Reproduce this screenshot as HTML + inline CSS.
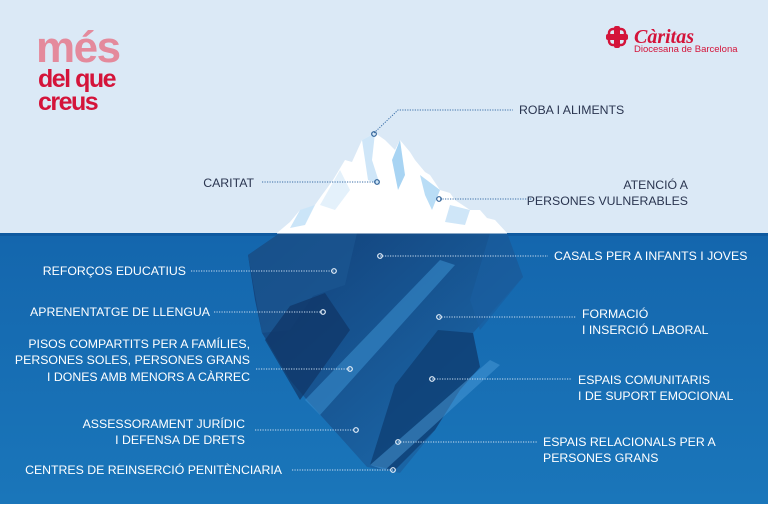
<!DOCTYPE html>
<html><head><meta charset="utf-8"><style>
html,body{margin:0;padding:0}
body{width:768px;height:504px;overflow:hidden;font-family:"Liberation Sans",sans-serif}
</style></head><body>
<svg width="768" height="504" viewBox="0 0 768 504" xmlns="http://www.w3.org/2000/svg" font-family="Liberation Sans, sans-serif">
<defs>
<linearGradient id="sea" x1="0" y1="0" x2="0" y2="1"><stop offset="0" stop-color="#1466ad"/><stop offset="1" stop-color="#1a76ba"/></linearGradient>
<linearGradient id="ice" x1="0" y1="0" x2="1" y2="1"><stop offset="0" stop-color="#123f77"/><stop offset="1" stop-color="#1d6fb2"/></linearGradient>
</defs>
<rect width="768" height="233" fill="#dbe9f6"/>
<rect y="233" width="768" height="271" fill="url(#sea)"/>
<rect y="233" width="768" height="3" fill="#0f5aa0"/>
<polygon points="280,233 248,255 255,300 262,333 290,380 307,400 367,467 400,473 435,430 460,390 480,367 473,333 523,277 507,233" fill="url(#ice)"/>
<polygon points="248,255 280,233 357,233 345,285 313,296 290,330 262,333" fill="#1a5590" opacity="0.8"/>
<polygon points="265,340 290,306 325,293 350,330 300,400" fill="#0f3565" opacity="0.7"/>
<polygon points="438,330 473,333 480,367 460,390 435,430 395,470 370,465 395,385" fill="#0d3a6e" opacity="0.7"/>
<polygon points="305,400 440,260 455,265 320,415" fill="#3a8fd0" opacity="0.55"/>
<polygon points="370,465 490,360 500,365 385,470" fill="#4a9ad8" opacity="0.5"/>
<polygon points="490,233 507,233 523,277 480,330 470,300" fill="#195e9f" opacity="0.7"/>
<polygon points="277,233 290,222 300,210 310,212 322,195 333,180 345,160 352,162 362,140 375,133 385,140 395,150 400,140 410,152 415,160 425,172 430,175 440,190 450,193 455,200 470,210 480,210 487,218 495,220 507,233" fill="#ffffff"/>
<polygon points="362,140 375,133 372,160 380,185 368,180" fill="#cfe6f8"/>
<polygon points="400,140 405,175 398,190 392,160" fill="#a8d4f3"/>
<polygon points="420,175 440,190 432,210 425,195" fill="#b9ddf6"/>
<polygon points="300,210 315,205 305,225 290,228" fill="#cbe5f8"/>
<polygon points="340,170 350,190 335,210 320,205" fill="#e4f1fb"/>
<polygon points="450,205 470,210 465,225 445,222" fill="#cfe6f8"/>
<line x1="277" y1="233" x2="507" y2="233" stroke="#ffffff" stroke-width="1"/>
<g font-weight="bold" letter-spacing="-1.5">
<text x="36" y="62" font-size="44" fill="#e48a9c">més</text>
<text x="38" y="87" font-size="25" fill="#d4143a">del que</text>
<text x="38" y="110" font-size="25" fill="#d4143a">creus</text>
</g>
<g fill="#d4143a">
<rect x="614" y="26" width="6" height="22" rx="2"/><rect x="606" y="34" width="22" height="6" rx="2"/>
<rect x="609" y="29" width="16" height="16" rx="4" fill="none" stroke="#d4143a" stroke-width="2.5"/>
<text x="634" y="43" font-size="20" font-weight="bold" font-style="italic" font-family="Liberation Serif, serif">Càritas</text>
<text x="634" y="52" font-size="9.5">Diocesana de Barcelona</text>
</g>
<g stroke-dasharray="1.2 1.3" stroke-width="1" fill="none">
<path d="M374,133 L398,110 L513,110" stroke="#3a6fa8"/>
<line x1="262" y1="182" x2="376" y2="182" stroke="#3a6fa8"/>
<line x1="440" y1="199" x2="532" y2="199" stroke="#3a6fa8"/>
<g stroke="#c9dcef">
<line x1="380" y1="256" x2="548" y2="256"/>
<line x1="191" y1="271" x2="334" y2="271"/>
<line x1="214" y1="312" x2="322" y2="312"/>
<line x1="439" y1="317" x2="576" y2="317"/>
<line x1="256" y1="369" x2="350" y2="369"/>
<line x1="432" y1="379" x2="572" y2="379"/>
<line x1="255" y1="430" x2="355" y2="430"/>
<line x1="398" y1="442" x2="538" y2="442"/>
<line x1="292" y1="470" x2="393" y2="470"/>
</g>
</g>
<g fill="none" stroke-width="1.2">
<circle cx="374" cy="134" r="2.3" stroke="#2c5f96"/>
<circle cx="377" cy="182" r="2.3" stroke="#2c5f96"/>
<circle cx="439" cy="199" r="2.3" stroke="#2c5f96"/>
<g stroke="#e6f0fa">
<circle cx="380" cy="256" r="2.3"/><circle cx="334" cy="271" r="2.3"/><circle cx="323" cy="312" r="2.3"/>
<circle cx="439" cy="317" r="2.3"/><circle cx="350" cy="369" r="2.3"/><circle cx="432" cy="379" r="2.3"/>
<circle cx="356" cy="430" r="2.3"/><circle cx="398" cy="442" r="2.3"/><circle cx="393" cy="470" r="2.3"/>
</g>
</g>
<g font-size="12.3" fill="#2a3550">
<text x="519" y="114">ROBA I ALIMENTS</text>
<text x="254" y="187" text-anchor="end">CARITAT</text>
<text x="688" y="189" text-anchor="end">ATENCIÓ A</text>
<text x="688" y="205" text-anchor="end">PERSONES VULNERABLES</text>
</g>
<g font-size="12.3" fill="#ffffff">
<text x="554" y="260">CASALS PER A INFANTS I JOVES</text>
<text x="186" y="275" text-anchor="end">REFORÇOS EDUCATIUS</text>
<text x="210" y="316" text-anchor="end">APRENENTATGE DE LLENGUA</text>
<text x="582" y="318">FORMACIÓ</text>
<text x="582" y="334">I INSERCIÓ LABORAL</text>
<text x="250" y="348" text-anchor="end">PISOS COMPARTITS PER A FAMÍLIES,</text>
<text x="250" y="364" text-anchor="end">PERSONES SOLES, PERSONES GRANS</text>
<text x="250" y="381" text-anchor="end">I DONES AMB MENORS A CÀRREC</text>
<text x="578" y="384">ESPAIS COMUNITARIS</text>
<text x="578" y="400">I DE SUPORT EMOCIONAL</text>
<text x="245" y="428" text-anchor="end">ASSESSORAMENT JURÍDIC</text>
<text x="245" y="444" text-anchor="end">I DEFENSA DE DRETS</text>
<text x="543" y="446">ESPAIS RELACIONALS PER A</text>
<text x="543" y="462">PERSONES GRANS</text>
<text x="282" y="474" text-anchor="end">CENTRES DE REINSERCIÓ PENITÈNCIARIA</text>
</g>
</svg>
</body></html>
